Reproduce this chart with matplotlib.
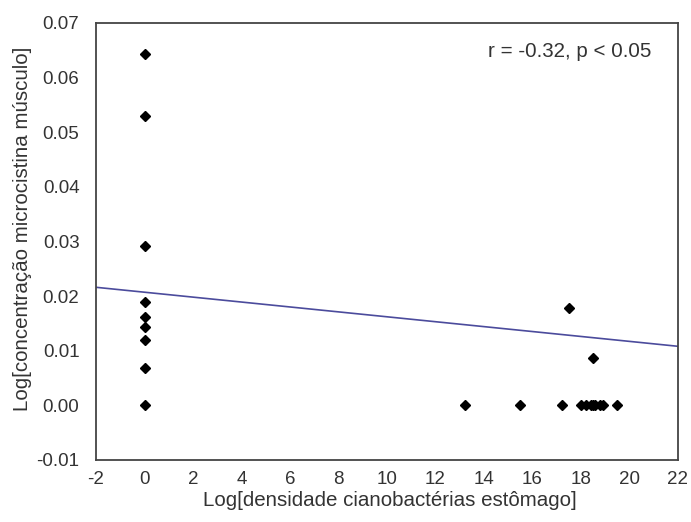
import matplotlib
matplotlib.use('Agg')
import numpy as np
from matplotlib import pyplot as plt

plt.rcParams['font.family'] = ['Liberation Sans', 'DejaVu Sans']
plt.rcParams['axes.unicode_minus'] = False

# scatter data
dens_x = [0, 0, 0, 0, 0, 0, 0, 0, 0,
          13.2, 15.5, 17.2, 17.5, 18.0, 18.2, 18.4, 18.5, 18.5, 18.6, 18.8, 18.9, 19.5]
conc_y = [0.0643, 0.0529, 0.0291, 0.0190, 0.0161, 0.0143, 0.0119, 0.0068, 0.0,
          0.0, 0.0, 0.0, 0.0178, 0.0, 0.0, 0.0, 0.0087, 0.0, 0.0, 0.0, 0.0, 0.0]

# regression line ends
fit_x = [-2, 22]
fit_y = [0.0216, 0.0108]

xticks = np.arange(-2, 23, 2)
yticks = [-0.01, 0.00, 0.01, 0.02, 0.03, 0.04, 0.05, 0.06, 0.07]

fig = plt.figure(figsize=(6.91, 5.22), dpi=100)
ax = fig.add_axes([0.139, 0.119, 0.842, 0.837])

ax.plot(fit_x, fit_y, color='#4b4b9c', lw=1.2)
ax.plot(dens_x, conc_y, 'D', color='black', markersize=5, ls='none')

ax.set_xlim(-2, 22)
ax.set_ylim(-0.01, 0.07)
ax.set_xticks(xticks)
ax.set_yticks(yticks)
ax.set_yticklabels(['%.2f' % v for v in yticks])
ax.tick_params(length=0, labelsize=13.5, colors='#333333')
ax.tick_params(axis='x', pad=8)
ax.tick_params(axis='y', pad=12)
for s in ax.spines.values():
    s.set_color('#444444')
    s.set_linewidth(1.3)

ax.set_xlabel('Log[densidade cianobactérias estômago]', fontsize=14.8, color='#333333', labelpad=2)
ax.set_ylabel('Log[concentração microcistina músculo]', fontsize=14.8, color='#333333', labelpad=3)
ax.xaxis.label.set_x(0.505)
ax.yaxis.label.set_y(0.53)
ax.text(0.955, 0.935, 'r = -0.32, p < 0.05', transform=ax.transAxes,
        ha='right', va='center', fontsize=14.8, color='#333333')

fig.savefig('out.png', dpi=100)
